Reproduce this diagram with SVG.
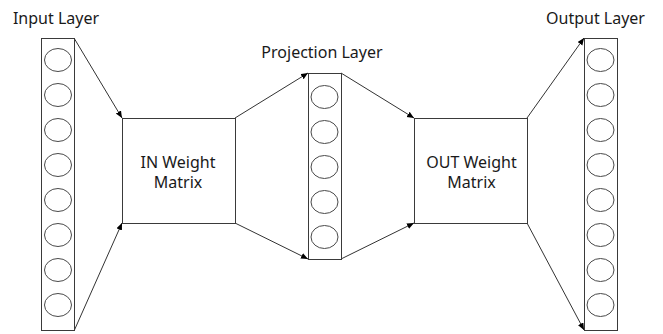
<svg xmlns="http://www.w3.org/2000/svg" width="663" height="334" viewBox="0 0 663 334">
<defs>
<marker id="arr" markerWidth="8" markerHeight="8" refX="7" refY="3" orient="auto" markerUnits="userSpaceOnUse">
<path d="M0,0 L7,3 L0,6 Z" fill="#000"/>
</marker>
<style>
.box{fill:#fff;stroke:#3a3a3a;stroke-width:1}
.neu{fill:#fff;stroke:#4a4a4a;stroke-width:1}
.lbl{font-family:"Noto Sans","Liberation Sans",sans-serif;font-size:16px;fill:#1a1a1a;text-anchor:middle}
.con{stroke:#333;stroke-width:1;fill:none;marker-end:url(#arr)}
</style>
</defs>
<rect width="663" height="334" fill="#fff"/>
<g id="connectors">
<line class="con" x1="74" y1="38" x2="122" y2="118"/>
<line class="con" x1="74" y1="331" x2="122" y2="223"/>
<line class="con" x1="235" y1="118" x2="308" y2="73"/>
<line class="con" x1="235" y1="223" x2="308" y2="259"/>
<line class="con" x1="341" y1="73" x2="414" y2="118"/>
<line class="con" x1="341" y1="259" x2="414" y2="223"/>
<line class="con" x1="527" y1="118" x2="584" y2="38"/>
<line class="con" x1="527" y1="223" x2="584" y2="330"/>
</g>
<g id="input-layer">
<text class="lbl" x="56" y="24">Input Layer</text>
<rect class="box" x="41.5" y="38.5" width="33" height="292"/>
<ellipse class="neu" cx="58" cy="60" rx="13.5" ry="11.5"/>
<ellipse class="neu" cx="58" cy="95" rx="13.5" ry="11.5"/>
<ellipse class="neu" cx="58" cy="130" rx="13.5" ry="11.5"/>
<ellipse class="neu" cx="58" cy="165" rx="13.5" ry="11.5"/>
<ellipse class="neu" cx="58" cy="200" rx="13.5" ry="11.5"/>
<ellipse class="neu" cx="58" cy="235" rx="13.5" ry="11.5"/>
<ellipse class="neu" cx="58" cy="270" rx="13.5" ry="11.5"/>
<ellipse class="neu" cx="58" cy="305" rx="13.5" ry="11.5"/>
</g>
<g id="in-weight-matrix">
<rect class="box" x="122.5" y="118.5" width="113" height="105"/>
<text class="lbl" x="178" y="168">IN Weight</text>
<text class="lbl" x="178" y="188">Matrix</text>
</g>
<g id="projection-layer">
<text class="lbl" x="322" y="58">Projection Layer</text>
<rect class="box" x="308.5" y="73.5" width="33" height="186"/>
<ellipse class="neu" cx="324.5" cy="97" rx="13.5" ry="11.5"/>
<ellipse class="neu" cx="324.5" cy="132" rx="13.5" ry="11.5"/>
<ellipse class="neu" cx="324.5" cy="167" rx="13.5" ry="11.5"/>
<ellipse class="neu" cx="324.5" cy="202" rx="13.5" ry="11.5"/>
<ellipse class="neu" cx="324.5" cy="237" rx="13.5" ry="11.5"/>
</g>
<g id="out-weight-matrix">
<rect class="box" x="414.5" y="118.5" width="113" height="105"/>
<text class="lbl" x="471.5" y="168">OUT Weight</text>
<text class="lbl" x="471.5" y="188">Matrix</text>
</g>
<g id="output-layer">
<text class="lbl" x="595.5" y="24">Output Layer</text>
<rect class="box" x="584.5" y="38.5" width="33" height="292"/>
<ellipse class="neu" cx="600.5" cy="60" rx="13.5" ry="11.5"/>
<ellipse class="neu" cx="600.5" cy="95" rx="13.5" ry="11.5"/>
<ellipse class="neu" cx="600.5" cy="130" rx="13.5" ry="11.5"/>
<ellipse class="neu" cx="600.5" cy="165" rx="13.5" ry="11.5"/>
<ellipse class="neu" cx="600.5" cy="200" rx="13.5" ry="11.5"/>
<ellipse class="neu" cx="600.5" cy="235" rx="13.5" ry="11.5"/>
<ellipse class="neu" cx="600.5" cy="270" rx="13.5" ry="11.5"/>
<ellipse class="neu" cx="600.5" cy="305" rx="13.5" ry="11.5"/>
</g>
</svg>
